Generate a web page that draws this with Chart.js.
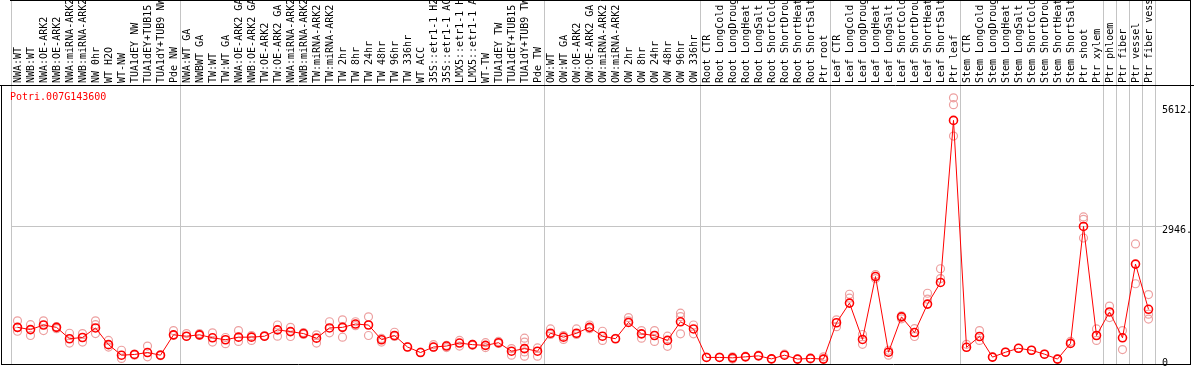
<!DOCTYPE html>
<html lang="en">
<head>
  <meta charset="UTF-8" />
  <title>Potri.007G143600</title>
  <style>
    html,body{margin:0;padding:0;background:#fff}
    #wrap{width:1194px;height:370px;position:relative}
  </style>
</head>
<body>
  <div id="wrap"><canvas id="chart"></canvas></div>

  <script src="https://cdn.jsdelivr.net/npm/chart.js"></script>
  <script>
  const geneId = 'Potri.007G143600';

  const labels = [
    'NWA:WT','NWB:WT','NWA:OE-ARK2','NWB:OE-ARK2','NWA:miRNA-ARK2','NWB:miRNA-ARK2','NW 0hr','WT H2O','WT-NW',
    'TUA1dEY NW','TUA1dEY+TUB15 NW','TUA1dY+TUB9 NW','Pde NW',
    'NWA:WT GA','NWBWT GA','TW:WT','TW:WT GA','NWA:OE-ARK2 GA','NWB:OE-ARK2 GA','TW:OE-ARK2','TW:OE-ARK2 GA',
    'NWA:miRNA-ARK2','NWB:miRNA-ARK2','TW:miRNA-ARK2','TW:miRNA-ARK2','TW 2hr','TW 8hr','TW 24hr','TW 48hr',
    'TW 96hr','TW 336hr','WT ACC','35S::etr1-1 H2O','35S::etr1-1 ACC','LMX5::etr1-1 H2O','LMX5::etr1-1 ACC',
    'WT-TW','TUA1dEY TW','TUA1dEY+TUB15 TW','TUA1dY+TUB9 TW','Pde TW',
    'OW:WT','OW:WT GA','OW:OE-ARK2','OW:OE-ARK2 GA','OW:miRNA-ARK2','OW:miRNA-ARK2','OW 2hr','OW 8hr',
    'OW 24hr','OW 48hr','OW 96hr','OW 336hr',
    'Root CTR','Root LongCold','Root LongDrought','Root LongHeat','Root LongSalt','Root ShortCold',
    'Root ShortDrought','Root ShortHeat','Root ShortSalt','Ptr root',
    'Leaf CTR','Leaf LongCold','Leaf LongDrought','Leaf LongHeat','Leaf LongSalt','Leaf ShortCold',
    'Leaf ShortDrought','Leaf ShortHeat','Leaf ShortSalt','Ptr leaf',
    'Stem CTR','Stem LongCold','Stem LongDrought','Stem LongHeat','Stem LongSalt','Stem ShortCold',
    'Stem ShortDrought','Stem ShortHeat','Stem ShortSalt','Ptr shoot','Ptr xylem',
    'Ptr phloem','Ptr fiber','Ptr vessel','Ptr fiber vessel'
  ];

  // mean expression per sample (connected line)
  const means = [
    705,655,757,705,452,480,692,321,87,103,146,87,539,
    508,539,473,430,487,487,508,648,611,567,465,692,705,779,757,430,524,268,146,268,290,356,321,305,364,175,233,175,
    574,487,574,705,508,452,814,561,524,415,829,670,
    37,37,28,50,72,5,87,0,15,0,
    807,1244,436,1833,153,938,589,1222,1702,5302,
    262,502,44,153,240,196,109,0,349,2946,524,1047,473,2110,1106
  ];

  // individual replicates per sample
  const reps = [
    [851,698,618],[764,524],[851,633],[720,676],[574,356],[567,377],[851,764,567],[415,268],[196,15],[109,87],[290,50],[98,76],[633,524],
    [567,502],[567,524],[583,377],[480,343],[633,393],[524,415],[524,502],[757,508],[705,502],[589,546],[539,356],[829,583],
    [873,720,487],[829,742],[938,524],[458,377],[596,502],[273],[153],[321,262],[305,255],[415,290],[327,305],[364,255],
    [393,349],[233,87],[465,377,159,65],[247,65],
    [670,546],[524,436],[670,546],[757,676],[618,415],[458],[923,851],[633,465],[633,393],[508,284],[1019,945,561],[757,561],
    [44],[44],[50,0],[65],[87],[0],[109],[0],[0],[50,0],
    [873,720],[1440,1353],[546,327],[1877,1789],[196,87],[960,895],[676,502],[1462,1331],[2007,1789],[5804,5651,4953],
    [327],[633,415],[44],[153],[240],[196],[109],[0],[393],[3157,3105,2690],[670,415],[1178,923],[633,212],[2559,1674],[1434,997,888]
  ];

  // sample index where a new group starts (vertical grey lines)
  const groupEdges = [0, 13, 41, 53, 63, 73, 84, 85, 86, 87, 88];

  const yTickVals = [0, 2946, 5612];
  const yTickText = ['0', '2946.', '5612.'];
  const yMin = -109, yMax = 6088;

  const monoFont = { family: '"DejaVu Sans Mono", monospace', size: 10 };
  const gridGrey = '#c4c4c4';

  const repDatasets = [0, 1, 2, 3].map(k => ({
    label: 'rep' + (k + 1),
    data: reps.map(r => (r[k] === undefined ? null : r[k])),
    showLine: false,
    pointRadius: 4,
    pointBorderWidth: 1.2,
    pointBorderColor: '#eda0a0',
    pointBackgroundColor: 'transparent'
  }));

  const frame = {
    id: 'frame',
    afterDraw(chart) {
      const { ctx, chartArea: a, width } = chart;
      const ys = chart.scales.y;
      ctx.save();
      ctx.strokeStyle = '#000';
      ctx.lineWidth = 1;
      ctx.beginPath();
      ctx.moveTo(a.left - 1, 0.5); ctx.lineTo(ys.right + 1, 0.5);
      ctx.moveTo(ys.right + 0.5, 0); ctx.lineTo(ys.right + 0.5, a.bottom + 1);
      ctx.moveTo(0, a.top + 0.5); ctx.lineTo(width, a.top + 0.5);
      ctx.moveTo(1.5, a.top); ctx.lineTo(1.5, a.bottom + 1);
      ctx.moveTo(1, a.bottom + 0.5); ctx.lineTo(ys.right + 1, a.bottom + 0.5);
      ctx.stroke();
      ctx.fillStyle = '#f00';
      ctx.font = '10px "DejaVu Sans Mono", monospace';
      ctx.textBaseline = 'middle';
      ctx.fillText(geneId, a.left - 1, a.top + 12);
      ctx.restore();
    }
  };

  new Chart(document.getElementById('chart'), {
    type: 'line',
    data: {
      labels: labels,
      datasets: [{
        label: 'mean',
        data: means,
        borderColor: '#f00',
        borderWidth: 1,
        tension: 0,
        pointRadius: 4,
        pointBorderWidth: 1.6,
        pointBorderColor: '#f00',
        pointBackgroundColor: 'transparent'
      }, ...repDatasets]
    },
    options: {
      responsive: true,
      maintainAspectRatio: false,
      animation: false,
      events: [],
      layout: { padding: { left: 11, right: 4, top: 0, bottom: 1 } },
      plugins: { legend: { display: false }, tooltip: { enabled: false } },
      scales: {
        x: {
          position: 'top',
          offset: true,
          afterFit: s => { s.height = 85; },
          border: { display: false },
          grid: {
            offset: true,
            drawTicks: true,
            tickLength: 85,
            color: c => (c.type !== 'tick' || groupEdges.includes(c.index)) ? gridGrey : 'transparent'
          },
          ticks: {
            autoSkip: false,
            minRotation: 90,
            maxRotation: 90,
            padding: -83,
            labelOffset: 13,
            color: '#000',
            font: monoFont
          }
        },
        y: {
          position: 'right',
          min: yMin,
          max: yMax,
          afterFit: s => { s.width = 35; },
          afterBuildTicks: s => { s.ticks = yTickVals.map(v => ({ value: v })); },
          border: { display: false },
          grid: {
            drawTicks: true,
            tickLength: 7,
            color: c => (c.tick && c.tick.value === 2946) ? gridGrey : 'transparent'
          },
          ticks: {
            padding: 0,
            labelOffset: 4,
            color: '#000',
            font: monoFont,
            callback: v => yTickText[yTickVals.indexOf(v)]
          }
        }
      }
    },
    plugins: [frame]
  });
  </script>
</body>
</html>
